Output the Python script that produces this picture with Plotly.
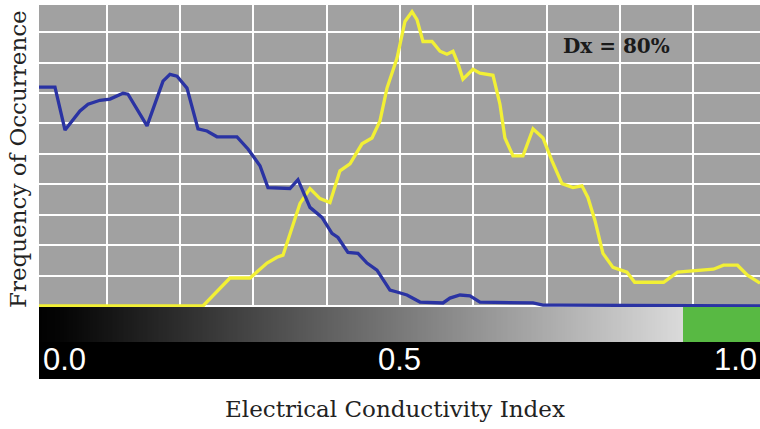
import numpy as np
import plotly.graph_objects as go

# Frequency-of-occurrence curves over the conductivity index
blue_x = [0.0, 0.0293, 0.0430, 0.0634, 0.0744, 0.0907, 0.1044, 0.1221, 0.1289, 0.1549,
          0.1767, 0.1862, 0.1958, 0.2094, 0.2244, 0.2367, 0.2503, 0.2776, 0.2926, 0.3090,
          0.3199, 0.3499, 0.3608, 0.3677, 0.3772, 0.3936, 0.4072, 0.4154, 0.4290, 0.4427,
          0.4550, 0.4686, 0.4863, 0.4959, 0.5095, 0.5273, 0.5587, 0.5682, 0.5819, 0.5955,
          0.6091, 0.6815, 0.6951, 0.7183, 1.0]
blue_y = [7.19, 7.19, 5.78, 6.41, 6.63, 6.76, 6.80, 6.99, 6.96, 5.92,
          7.39, 7.61, 7.55, 7.16, 5.82, 5.75, 5.56, 5.56, 5.16, 4.61,
          3.89, 3.86, 4.15, 3.79, 3.24, 2.91, 2.39, 2.25, 1.76, 1.73,
          1.41, 1.18, 0.52, 0.46, 0.36, 0.13, 0.10, 0.26, 0.36, 0.33,
          0.13, 0.10, 0.03, 0.03, 0.0]

yellow_x = [0.0, 0.2312, 0.2681, 0.2954, 0.3186, 0.3322, 0.3404, 0.3499, 0.3636, 0.3772,
            0.3909, 0.4045, 0.4181, 0.4318, 0.4482, 0.4618, 0.4727, 0.4823, 0.4959, 0.5068,
            0.5164, 0.5232, 0.5314, 0.5437, 0.5546, 0.5641, 0.5723, 0.5791, 0.5859, 0.5996,
            0.6091, 0.6269, 0.6364, 0.6432, 0.6542, 0.6678, 0.6815, 0.6951, 0.7074, 0.7210,
            0.7360, 0.7483, 0.7565, 0.7660, 0.7769, 0.7906, 0.8097, 0.8202, 0.8597, 0.8788,
            0.9061, 0.9277, 0.9414, 0.9605, 0.9741, 0.9912]
yellow_y = [0.0, 0.0, 0.92, 0.92, 1.41, 1.60, 1.67, 2.39, 3.37, 3.86,
            3.53, 3.40, 4.44, 4.67, 5.33, 5.52, 6.08, 7.16, 8.14, 9.35,
            9.67, 9.41, 8.69, 8.69, 8.37, 8.27, 8.37, 7.97, 7.45, 7.78,
            7.65, 7.58, 6.63, 5.52, 4.93, 4.93, 5.82, 5.52, 4.77, 4.02,
            3.89, 3.95, 3.56, 2.81, 1.73, 1.27, 1.11, 0.78, 0.78, 1.11,
            1.18, 1.21, 1.34, 1.34, 1.01, 0.75]

tick_vals = [0.0, 0.5, 1.0]
tick_text = ["0.0", "0.5", "1.0"]
green_start = 0.885  # index where the colour bar turns green
dx_label = "Dx = 80%"

X_RANGE = [0.0075, 0.9912]
MAIN_DOMAIN = [0.1925, 1.0]
BAR_DOMAIN = [0.0989, 0.1925]
BAND_TOP = 0.0989


def to_paper(v):
    # keep the end labels inside the band
    p = (v - X_RANGE[0]) / (X_RANGE[1] - X_RANGE[0])
    return min(max(p, 0.003), 0.999)


fig = go.Figure()

# Grey-scale colour bar below the plot
grad_x = np.linspace(0, 1, 400)
fig.add_trace(go.Heatmap(
    x=grad_x, y=[0], z=[grad_x], zmin=0, zmax=1,
    colorscale=[[0.0, "#000000"], [0.04, "#050505"], [green_start, "#dadada"],
                [green_start, "#58b943"], [1.0, "#58b943"]],
    showscale=False, hoverinfo="skip", xaxis="x2", yaxis="y2",
))

fig.add_trace(go.Scatter(x=yellow_x, y=yellow_y, mode="lines",
                         line=dict(color="#f2f035", width=3.3), hoverinfo="skip"))
fig.add_trace(go.Scatter(x=blue_x, y=blue_y, mode="lines",
                         line=dict(color="#2a33a3", width=3.3), hoverinfo="skip"))

fig.update_layout(
    width=760, height=429,
    margin=dict(l=39, r=0, t=5, b=50),
    paper_bgcolor="white",
    plot_bgcolor="#a1a1a1",
    showlegend=False,
    xaxis=dict(domain=[0, 1], range=X_RANGE, dtick=0.1, tick0=0,
               showgrid=True, gridcolor="white", gridwidth=2,
               showticklabels=False, zeroline=False, showline=False,
               anchor="y", ticks=""),
    yaxis=dict(domain=MAIN_DOMAIN, range=[-0.033, 9.89], dtick=1, tick0=0,
               showgrid=True, gridcolor="white", gridwidth=2,
               showticklabels=False, zeroline=False, showline=False, ticks=""),
    xaxis2=dict(domain=[0, 1], range=X_RANGE, anchor="y2", showgrid=False,
                showticklabels=False, zeroline=False, showline=False, ticks=""),
    yaxis2=dict(domain=BAR_DOMAIN, range=[-0.5, 0.5], anchor="x2", showgrid=False,
                showticklabels=False, zeroline=False, showline=False, ticks=""),
)

# Black band carrying the index labels
fig.add_shape(type="rect", xref="paper", yref="paper", x0=0, x1=1, y0=0, y1=BAND_TOP,
              fillcolor="black", line_width=0, layer="above")

label_font = dict(family="Liberation Sans Narrow, Liberation Sans, Arial", size=31, color="white")
anchors = ["left", "center", "right"]
for v, t, a in zip(tick_vals, tick_text, anchors):
    fig.add_annotation(x=to_paper(v), y=BAND_TOP / 2, xref="paper", yref="paper", text=t,
                       showarrow=False, xanchor=a, yanchor="middle", yshift=1,
                       font=label_font)

title_font = dict(family="DejaVu Serif", size=23, color="#222222")
fig.add_annotation(x=0.5, y=0, xref="paper", yref="paper", text="Electrical Conductivity Index",
                   showarrow=False, xanchor="center", yanchor="middle", yshift=-30, xshift=-5,
                   font=title_font)
fig.add_annotation(x=0, y=sum(MAIN_DOMAIN) / 2, xref="paper", yref="paper",
                   text="Frequency of Occurrence", textangle=-90,
                   showarrow=False, xanchor="center", yanchor="middle", xshift=-21, yshift=-3,
                   font=title_font)

fig.add_annotation(x=0.796, y=8.54, xref="x", yref="y", text="<b>" + dx_label + "</b>",
                   showarrow=False, xanchor="center", yanchor="middle",
                   font=dict(family="DejaVu Serif", size=20, color="#1a1a1a"))

fig.write_html("out.html")
